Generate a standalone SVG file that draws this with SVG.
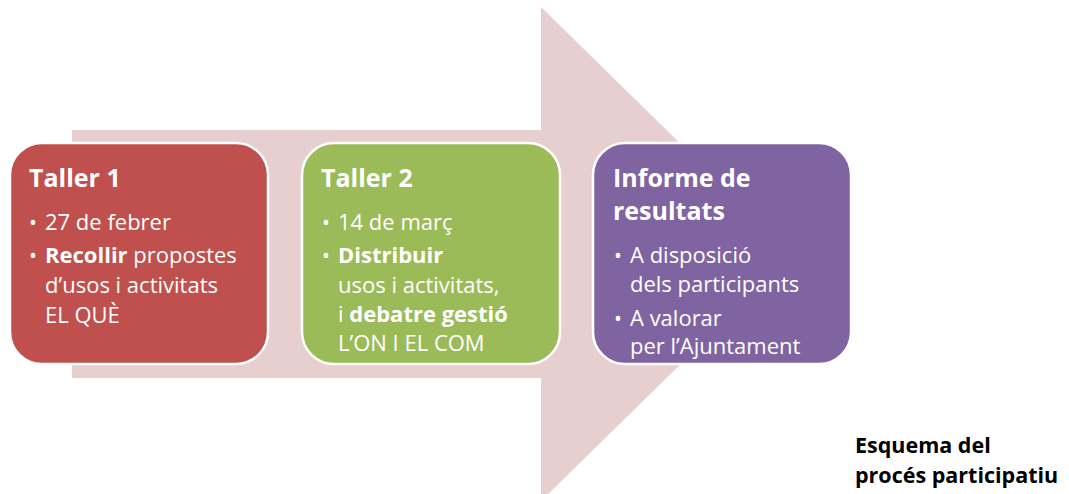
<svg xmlns="http://www.w3.org/2000/svg" width="1069" height="494" viewBox="0 0 1069 494">
<style>
.box{stroke:#fff;stroke-width:2.5}
.t{font-family:"Open Sans","Noto Sans",sans-serif;fill:#fff}
.h{font-size:25px;font-weight:bold}
.b{font-size:22px}
.d{font-size:21px}
.bold{font-weight:bold}
.cap{font-family:"Open Sans","Noto Sans",sans-serif;font-size:21.5px;font-weight:bold;fill:#000}
</style>
<rect width="1069" height="494" fill="#fff"/>
<g id="connectors">
<polygon points="72,130 541,130 541,7 793,254 541,501 541,378 72,378" fill="#E7CFD0"/>
</g>
<g id="taller1">
<rect class="box" x="10" y="143" width="258" height="221" rx="32" fill="#C0504D"/>
<text class="t h" x="29" y="187">Taller 1</text>
<text class="t d" x="29" y="230">•</text><text class="t b" x="45" y="230">27 de febrer</text>
<text class="t d" x="29" y="263">•</text><text class="t b" x="45" y="263"><tspan class="bold">Recollir</tspan> propostes</text>
<text class="t b" x="45" y="293">d’usos i activitats</text>
<text class="t b" x="45" y="323">EL QUÈ</text>
</g>
<g id="taller2">
<rect class="box" x="302" y="143" width="258" height="221" rx="32" fill="#9BBB59"/>
<text class="t h" x="321" y="187">Taller 2</text>
<text class="t d" x="322" y="230">•</text><text class="t b" x="338" y="230">14 de març</text>
<text class="t d" x="322" y="263">•</text><text class="t b bold" x="338" y="263">Distribuir</text>
<text class="t b" x="338" y="293">usos i activitats,</text>
<text class="t b" x="338" y="322">i <tspan class="bold">debatre gestió</tspan></text>
<text class="t b" x="338" y="351">L’ON I EL COM</text>
</g>
<g id="informe">
<rect class="box" x="593" y="143" width="258" height="221" rx="32" fill="#8064A2"/>
<text class="t h" x="613" y="187">Informe de</text>
<text class="t h" x="613" y="220">resultats</text>
<text class="t d" x="614" y="263">•</text><text class="t b" x="630" y="263">A disposició</text>
<text class="t b" x="630" y="292">dels participants</text>
<text class="t d" x="614" y="326">•</text><text class="t b" x="630" y="326">A valorar</text>
<text class="t b" x="630" y="354">per l’Ajuntament</text>
</g>
<g id="caption">
<text class="cap" x="855" y="453">Esquema del</text>
<text class="cap" x="855" y="483">procés participatiu</text>
</g>
</svg>
